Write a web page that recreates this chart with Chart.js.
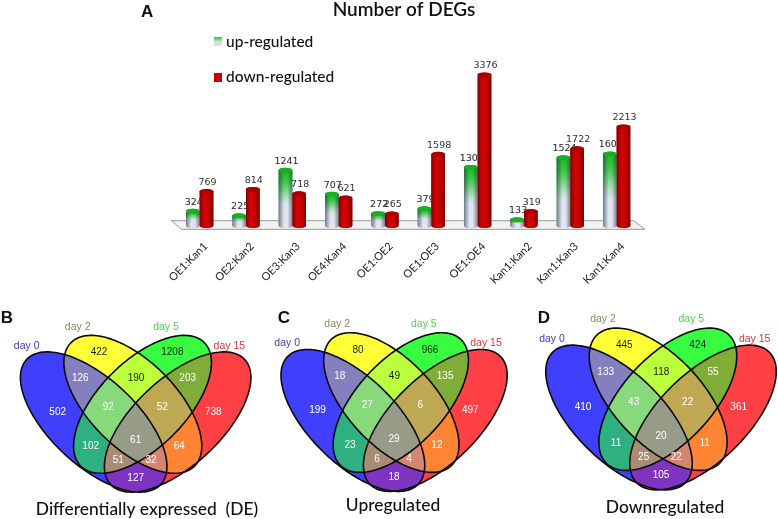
<!DOCTYPE html>
<html>
<head>
<meta charset="utf-8">
<title>Number of DEGs</title>
<script src="https://cdn.jsdelivr.net/npm/chart.js@4"></script>
<style>
  html, body { margin: 0; background: #fff; }
  #page { position: relative; width: 778px; height: 519px; overflow: hidden; }
  canvas { position: absolute; }
</style>
</head>
<body>
<div id="page">
  <canvas id="barChart" width="778" height="290" style="left:0;top:0"></canvas>
  <canvas id="vennB" width="270" height="229" style="left:0;top:290px"></canvas>
  <canvas id="vennC" width="260" height="229" style="left:260px;top:290px"></canvas>
  <canvas id="vennD" width="268" height="229" style="left:510px;top:290px"></canvas>
</div>
<script>
const comparisons = ['OE1:Kan1', 'OE2:Kan2', 'OE3:Kan3', 'OE4:Kan4', 'OE1:OE2', 'OE1:OE3', 'OE1:OE4', 'Kan1:Kan2', 'Kan1:Kan3', 'Kan1:Kan4'];
const upRegulated = [324, 225, 1241, 707, 272, 379, 1307, 133, 1524, 1607];
const downRegulated = [769, 814, 718, 621, 265, 1598, 3376, 319, 1722, 2213];

// Venn counts, same region order in all three panels
const regions = ['A', 'B', 'C', 'D', 'AB', 'BC', 'CD', 'ABC', 'BCD', 'AC', 'BD', 'ABCD', 'ACD', 'ABD', 'AD'];
const countsDE = [502, 422, 1208, 738, 126, 190, 203, 92, 52, 102, 64, 61, 51, 32, 127];
const countsUp = [199, 80, 966, 497, 18, 49, 135, 27, 6, 23, 12, 29, 6, 4, 18];
const countsDown = [410, 445, 424, 361, 133, 118, 55, 43, 22, 11, 11, 20, 25, 22, 105];
const dayNames = ['day 0', 'day 2', 'day 5', 'day 15'];

// layout of the venn in its own axis units
const regionX = [173, 297, 517, 640, 241, 408, 563, 325, 487, 272, 538, 407, 355, 453, 407];
const regionY = [367, 187, 187, 367, 265, 265, 265, 352, 352, 470, 470, 451, 512, 512, 565];
const dayX = [80, 233, 498, 688];
const dayY = [167, 110, 110, 167];
const dayColors = ['#4040b8', '#8c8a52', '#4fd24f', '#d23c3c'];
const ellipses = [
  {x: 281, y: 396, a: 275, b: 130, deg: 43},
  {x: 398.5, y: 343, a: 262, b: 130, deg: 45},
  {x: 427.5, y: 343, a: 262, b: 130, deg: -45},
  {x: 533, y: 396, a: 275, b: 130, deg: -43}
];
const regionColors = {
  A: '#4040fc', B: '#ffff38', C: '#38fc40', D: '#ff4044',
  AB: '#8480c0', BC: '#bcff3c', CD: '#80ac38', AC: '#2fb080', BD: '#ff8434', AD: '#7e34c0',
  ABC: '#88d87c', BCD: '#bea854', ABD: '#d48670', ACD: '#a98c74', ABCD: '#969c88'
};
const darkRegions = ['B', 'C', 'BC'];

const SANS = '"Liberation Sans", Arial, sans-serif';

function text(ctx, str, x, y, font, color, align) {
  ctx.save();
  ctx.font = font;
  ctx.fillStyle = color;
  ctx.textAlign = align || 'left';
  ctx.textBaseline = 'middle';
  ctx.fillText(str, x, y);
  ctx.restore();
}

function drawCylinder(ctx, x, top, base, w, isUp) {
  const l = x - w / 2, r = x + w / 2, ry = 2.4;
  ctx.save();
  ctx.beginPath();
  ctx.moveTo(l, top);
  ctx.lineTo(l, base);
  ctx.ellipse(x, base, w / 2, ry, 0, Math.PI, 0, true);
  ctx.lineTo(r, top);
  ctx.ellipse(x, top, w / 2, ry, 0, 0, Math.PI, true);
  ctx.closePath();
  if (isUp) {
    const v = ctx.createLinearGradient(0, top, 0, base);
    v.addColorStop(0, '#1cb822');
    v.addColorStop(0.2, '#3cc845');
    v.addColorStop(0.5, '#b4e0c0');
    v.addColorStop(0.62, '#dfe3ef');
    v.addColorStop(1, '#e4e7f2');
    ctx.fillStyle = v;
    ctx.fill();
    const h = ctx.createLinearGradient(l, 0, r, 0);
    h.addColorStop(0, 'rgba(40,50,80,0.6)');
    h.addColorStop(0.4, 'rgba(40,50,80,0)');
    h.addColorStop(0.65, 'rgba(40,50,80,0)');
    h.addColorStop(1, 'rgba(40,50,80,0.55)');
    ctx.fillStyle = h;
    ctx.fill();
  } else {
    const h = ctx.createLinearGradient(l, 0, r, 0);
    h.addColorStop(0, '#840000');
    h.addColorStop(0.35, '#d40404');
    h.addColorStop(0.65, '#c80000');
    h.addColorStop(1, '#7c0000');
    ctx.fillStyle = h;
    ctx.fill();
  }
  ctx.beginPath();
  ctx.ellipse(x, top, w / 2, ry, 0, 0, Math.PI * 2);
  ctx.fillStyle = isUp ? '#18ae20' : '#a80000';
  ctx.fill();
  ctx.restore();
}

const barLook = {
  id: 'barLook',
  beforeDatasetsDraw(chart) {
    const {ctx, scales: {x, y}} = chart;
    const b = y.bottom;
    ctx.save();
    ctx.beginPath();
    ctx.moveTo(x.left - 5, b - 5);
    ctx.lineTo(x.left + 5, b + 3.6);
    ctx.lineTo(x.right + 5.2, b + 3.6);
    ctx.lineTo(x.right - 6.5, b - 5);
    ctx.closePath();
    ctx.fillStyle = '#f2f2f2';
    ctx.fill();
    ctx.strokeStyle = '#9a9a9a';
    ctx.lineWidth = 1;
    ctx.stroke();
    ctx.restore();
  },
  afterDatasetsDraw(chart) {
    const {ctx} = chart;
    const label = (index, i, p) => {
      text(ctx, String(chart.data.datasets[index].data[i]), p.x + 1, p.y - 9, '9.5px "DejaVu Sans"', '#333', 'center');
    };
    // up bars first so the down bars cover part of their labels
    [0, 1].forEach(index => {
      chart.getDatasetMeta(index).data.forEach((bar, i) => {
        const p = bar.getProps(['x', 'y', 'base', 'width'], true);
        drawCylinder(ctx, p.x, p.y, p.base, p.width, index === 0);
        label(index, i, p);
      });
    });
    // covered digits still show faintly through the red
    ctx.save();
    ctx.globalAlpha = 0.25;
    chart.getDatasetMeta(0).data.forEach((bar, i) => label(0, i, bar.getProps(['x', 'y'], true)));
    ctx.restore();
  },
  afterDraw(chart) {
    const {ctx} = chart;
    text(ctx, 'A', 141, 12.5, 'bold 17px ' + SANS, '#111');
    text(ctx, 'Number of DEGs', 404, 9.5, '600 19px Lato', '#111', 'center');
    const names = chart.data.datasets.map(d => d.label);
    // legend
    const v = ctx.createLinearGradient(0, 37, 0, 46);
    v.addColorStop(0, '#2cc034');
    v.addColorStop(0.5, '#bfe4cc');
    v.addColorStop(1, '#dfe3ef');
    ctx.fillStyle = v;
    ctx.fillRect(214, 37, 8, 9);
    ctx.fillStyle = '#c40000';
    ctx.fillRect(214, 73, 8, 9);
    text(ctx, names[0], 226, 41.5, '500 15.5px Lato', '#111');
    text(ctx, names[1], 226, 77, '500 15.5px Lato', '#111');
  }
};

new Chart(document.getElementById('barChart'), {
  type: 'bar',
  data: {
    labels: comparisons,
    datasets: [
      {label: 'up-regulated', data: upRegulated, backgroundColor: '#2cc034'},
      {label: 'down-regulated', data: downRegulated, backgroundColor: '#c40000'}
    ]
  },
  options: {
    responsive: false,
    animation: false,
    devicePixelRatio: 1,
    layout: {padding: {left: 176.5, right: 138.2, top: 2.2, bottom: 0}},
    datasets: {bar: {categoryPercentage: 0.59, barPercentage: 1}},
    plugins: {legend: {display: false}, tooltip: {enabled: false}},
    scales: {
      y: {display: false, min: 0, max: 5000},
      x: {
        grid: {display: false},
        border: {display: false},
        afterFit(s) { s.height = 64.3; s.paddingLeft = 0; s.paddingRight = 0; },
        ticks: {
          autoSkip: false,
          minRotation: 45,
          maxRotation: 45,
          padding: 6,
          labelOffset: 6,
          color: '#222',
          font: {family: 'Lato', size: 11}
        }
      }
    }
  },
  plugins: [barLook]
});

function ellipsePath(e, xs, ys) {
  const path = new Path2D();
  const th = e.deg * Math.PI / 180;
  for (let i = 0; i <= 180; i++) {
    const t = i / 180 * Math.PI * 2;
    const u = e.x + e.a * Math.cos(t) * Math.cos(th) - e.b * Math.sin(t) * Math.sin(th);
    const v = e.y + e.a * Math.cos(t) * Math.sin(th) + e.b * Math.sin(t) * Math.cos(th);
    const px = xs.getPixelForValue(u), py = ys.getPixelForValue(v);
    if (i === 0) path.moveTo(px, py); else path.lineTo(px, py);
  }
  path.closePath();
  return path;
}

const vennLook = {
  id: 'vennLook',
  beforeDatasetsDraw(chart) {
    const {ctx, width, height, scales: {x, y}} = chart;
    const paths = ellipses.map(e => ellipsePath(e, x, y));
    const keys = 'ABCD';
    regions.forEach(name => {
      ctx.save();
      paths.forEach((p, i) => {
        if (name.includes(keys[i])) {
          ctx.clip(p);
        } else {
          const out = new Path2D();
          out.rect(0, 0, width, height);
          out.addPath(p);
          ctx.clip(out, 'evenodd');
        }
      });
      ctx.fillStyle = regionColors[name];
      ctx.fillRect(0, 0, width, height);
      ctx.restore();
    });
    ctx.save();
    ctx.strokeStyle = '#0a0a0a';
    ctx.lineWidth = 1.6;
    paths.forEach(p => ctx.stroke(p));
    ctx.restore();
  },
  afterDatasetsDraw(chart, args, opts) {
    const {ctx, scales: {x, y}} = chart;
    chart.getDatasetMeta(0).data.forEach((pt, i) => {
      const c = darkRegions.includes(regions[i]) ? '#15200c' : '#fff';
      text(ctx, String(chart.data.datasets[0].data[i].count), pt.x, pt.y, '10px ' + SANS, c, 'center');
    });
    dayNames.forEach((d, i) => {
      text(ctx, d, x.getPixelForValue(dayX[i]), y.getPixelForValue(dayY[i]), '10.5px ' + SANS, dayColors[i], 'center');
    });
    text(ctx, opts.letter, opts.letterX, 28, 'bold 17px ' + SANS, '#111', 'center');
    text(ctx, opts.caption, opts.captionX, opts.captionY, '500 17.4px Lato', '#111', 'center');
  }
};

function makeVenn(id, counts, xRange, yRange, look) {
  new Chart(document.getElementById(id), {
    type: 'scatter',
    data: {
      datasets: [{
        data: regions.map((r, i) => ({x: regionX[i], y: regionY[i], count: counts[i]})),
        pointRadius: 0
      }]
    },
    options: {
      responsive: false,
      animation: false,
      devicePixelRatio: 1,
      layout: {padding: 0},
      plugins: {legend: {display: false}, tooltip: {enabled: false}, vennLook: look},
      scales: {
        x: {display: false, min: xRange[0], max: xRange[1]},
        y: {display: false, reverse: true, min: yRange[0], max: yRange[1]}
      }
    },
    plugins: [vennLook]
  });
}

makeVenn('vennB', countsDE, [0, 810], [0, 687], {letter: 'B', letterX: 7, caption: 'Differentially expressed  (DE)', captionX: 147, captionY: 219});
makeVenn('vennC', countsUp, [-3, 792], [9.6, 688], {letter: 'C', letterX: 24, caption: 'Upregulated', captionX: 133, captionY: 215});
makeVenn('vennD', countsDown, [-46, 758], [25.5, 691], {letter: 'D', letterX: 34, caption: 'Downregulated', captionX: 155, captionY: 217});
</script>
</body>
</html>
